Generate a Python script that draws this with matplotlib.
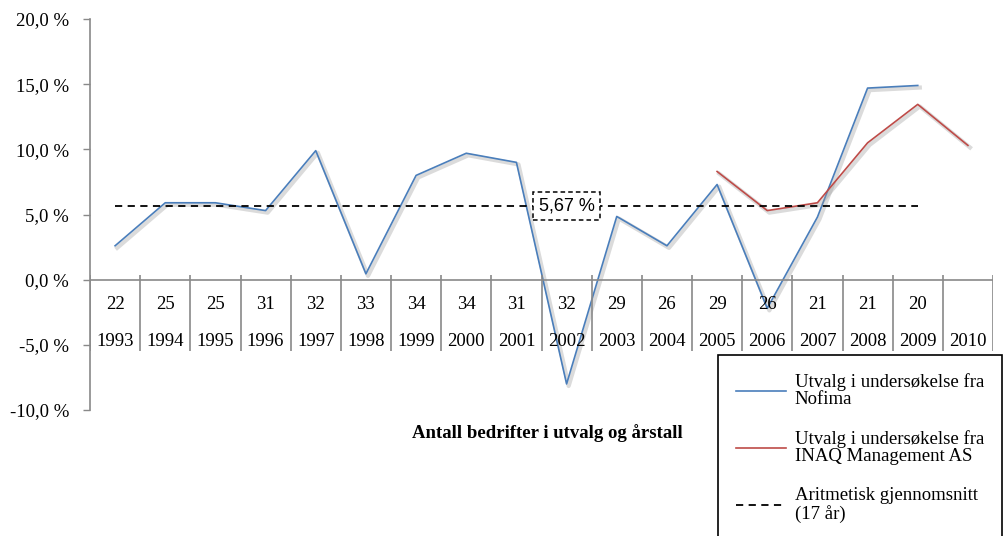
import numpy as np
import matplotlib
matplotlib.use("Agg")
import matplotlib.pyplot as plt
import matplotlib.patheffects as pe

years = ["1993", "1994", "1995", "1996", "1997", "1998", "1999", "2000", "2001",
         "2002", "2003", "2004", "2005", "2006", "2007", "2008", "2009", "2010"]
counts = ["22", "25", "25", "31", "32", "33", "34", "34", "31",
          "32", "29", "26", "29", "26", "21", "21", "20", ""]

# Nofima, 1993-2009
nofima = [2.6, 5.9, 5.9, 5.3, 9.9, 0.45, 8.0, 9.7, 9.0,
          -8.0, 4.85, 2.6, 7.3, -2.2, 4.8, 14.7, 14.9]
# INAQ, 2005-2010
inaq_years = ["2005", "2006", "2007", "2008", "2009", "2010"]
inaq = [8.3, 5.3, 5.9, 10.5, 13.45, 10.3]
mean_val = 5.67
mean_years = 17

plt.rcParams['font.family'] = ['Liberation Serif', 'DejaVu Serif']
fs = 13.5
grey = '#898989'

fig = plt.figure(figsize=(10.05, 5.36), dpi=100)
ax = fig.add_axes([90/1005, 1-410/536, 903/1005, 391/536])

x = np.arange(len(years))
xi = [years.index(y) for y in inaq_years]
shadow = [pe.SimpleLineShadow(offset=(1.5, -1.5), shadow_color='0.6', alpha=0.35, linewidth=3), pe.Normal()]

l1, = ax.plot(x[:len(nofima)], nofima, color='#4a7ebb', lw=1.2, path_effects=shadow,
              label="Utvalg i undersøkelse fra\nNofima")
l2, = ax.plot(xi, inaq, color='#be4b48', lw=1.2, path_effects=shadow,
              label="Utvalg i undersøkelse fra\nINAQ Management AS")
l3, = ax.plot([x[0], x[len(nofima)-1]], [mean_val, mean_val], color='black', lw=1.3,
              dashes=(4, 3), label="Aritmetisk gjennomsnitt\n(%d år)" % mean_years)

ax.text(9, mean_val, ("%.2f %%" % mean_val).replace('.', ','), ha='center', va='center',
        family='Liberation Sans', fontsize=13,
        bbox=dict(boxstyle='square,pad=0.3', fc='white', ec='black', ls=(0, (3, 2)), lw=1.1))

ax.set_xlim(-0.5, len(years)-0.5)
ax.set_ylim(-10, 20)
ax.set_yticks(np.arange(-10, 21, 5))
ax.set_yticklabels([("%.1f %%" % v).replace('.', ',') for v in np.arange(-10, 21, 5)], fontsize=fs)
ax.tick_params(axis='y', direction='out', length=5, width=1, color=grey, pad=10)
ax.set_xticks([])
for s in ['top', 'right', 'bottom']:
    ax.spines[s].set_visible(False)
ax.spines['left'].set_color(grey)
ax.spines['left'].set_linewidth(1.2)

# category table under the zero line
ax.axhline(0, color=grey, lw=1.2)
ax.vlines(np.arange(len(years)+1)-0.5, -5.5, 0.38, color=grey, lw=1.2)
for i in range(len(years)):
    ax.text(x[i], -1.9, counts[i], ha='center', va='center', fontsize=fs)
    ax.text(x[i], -4.75, years[i], ha='center', va='center', fontsize=fs)

ax.text(0.507, -0.059, "Antall bedrifter i utvalg og årstall", transform=ax.transAxes,
        ha='center', va='center', fontsize=fs, fontweight='bold')

leg = fig.legend(handles=[l1, l2, l3], loc='upper left', bbox_to_anchor=(718/1005, 1-355/536),
                 fontsize=fs, frameon=True, fancybox=False, edgecolor='black', framealpha=1,
                 handlelength=2.7, handletextpad=0.45, labelspacing=1.15, borderpad=0.95,
                 borderaxespad=0)
leg.get_frame().set_linewidth(1.2)
for t in leg.get_texts():
    t.set_linespacing(1.05)
for h in leg.legend_handles:
    h.set_path_effects([])

fig.savefig("out.png", dpi=100)
